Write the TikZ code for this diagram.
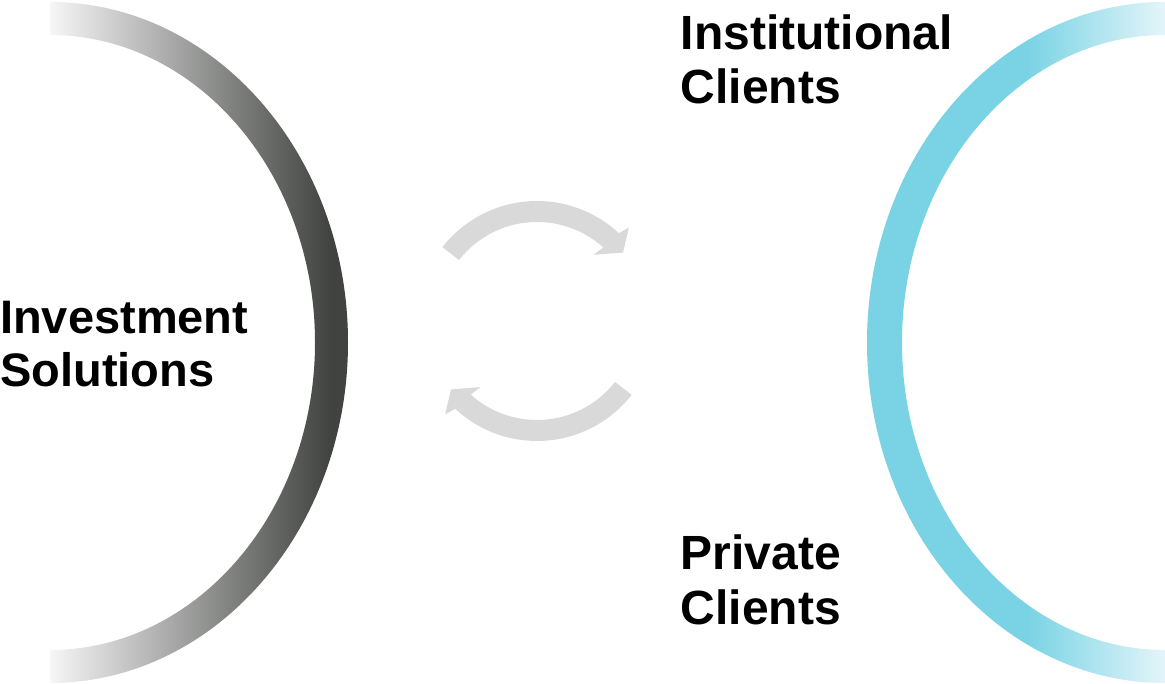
\documentclass[tikz,border=0pt]{standalone}
\usepackage{fontspec}
\setmainfont{Liberation Sans}
\usetikzlibrary{calc}

\definecolor{arcdark}{RGB}{64,67,64}
\definecolor{arclight}{RGB}{246,246,246}
\definecolor{arccyan}{RGB}{121,211,228}
\definecolor{arccyanlight}{RGB}{228,245,250}
\definecolor{arrowgray}{RGB}{217,217,217}

% horizontal colour ramps; the path bounding box spans 25bp..75bp
\pgfdeclarehorizontalshading{grayramp}{100bp}{color(0bp)=(arclight); color(25bp)=(arclight); color(72bp)=(arcdark); color(100bp)=(arcdark)}
\pgfdeclarehorizontalshading{cyanramp}{100bp}{color(0bp)=(arccyan); color(25bp)=(arccyan); color(51.8bp)=(arccyan); color(75bp)=(arccyanlight); color(100bp)=(arccyanlight)}

\tikzset{
  lbl/.style={font=\fontsize{47}{56}\selectfont\bfseries, text=black, inner sep=0pt, anchor=base west},
  lblr/.style={lbl, font=\fontsize{48}{56}\selectfont\bfseries},
  cyclearrow/.pic={
    \fill[arrowgray] (142:120) arc[start angle=142, end angle=47, radius=120]
      -- (45.5:131) -- (38.5:110) -- (49.5:87) -- (48:99)
      arc[start angle=48, end angle=142, radius=99] -- cycle;
  }
}

\begin{document}
\begin{tikzpicture}[x=1pt, y=1pt]
  \useasboundingbox (0,0) rectangle (1165,684);
  \fill[white] (0,0) rectangle (1165,684);
  \clip (0,0) rectangle (1165,684);

  % left half ring (grey ramp)
  \coordinate (L) at (50,341.5);
  \shade[shading=grayramp] (50,682) arc[start angle=90, end angle=-90, x radius=298, y radius=340.5]
    -- (50,34) arc[start angle=-90, end angle=90, x radius=265, y radius=307.5] -- cycle;

  % right half ring (cyan ramp)
  \coordinate (R) at (1165,341.5);
  \shade[shading=cyanramp] (1165,682) arc[start angle=90, end angle=270, x radius=298, y radius=340.5]
    -- (1165,34) arc[start angle=270, end angle=90, x radius=263, y radius=307.5] -- cycle;

  % exchange arrows
  \coordinate (C) at (537,363);
  \pic at (C) {cyclearrow};
  \pic[rotate=180] at (C) {cyclearrow};

  % labels
  \node[lbl] (inv) at (0,350) {Investment};
  \node[lbl] (sol) at (0,297.5) {Solutions};
  \node[lblr] (inst) at (680.5,634.7) {Institutional};
  \node[lblr] (instc) at (680.5,580) {Clients};
  \node[lblr] (priv) at (680.5,114) {Private};
  \node[lblr] (privc) at (680.5,59) {Clients};
\end{tikzpicture}
\end{document}
